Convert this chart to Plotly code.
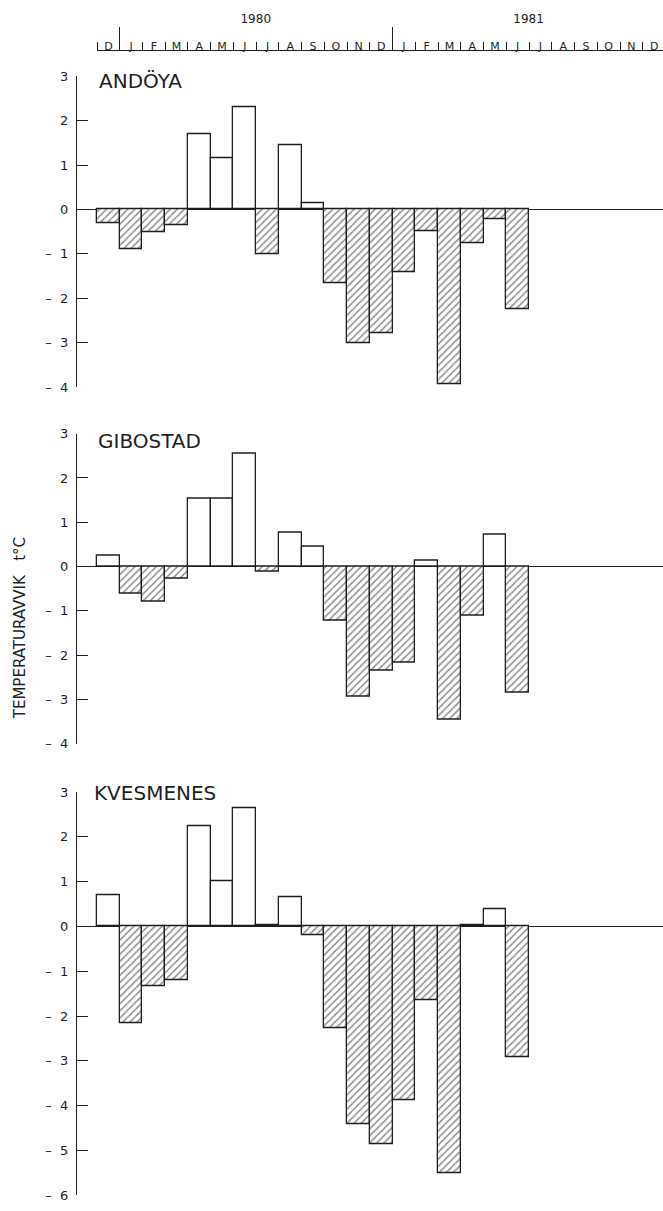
import plotly.graph_objects as go

# ---- data ----
month_letters = ["D", "J", "F", "M", "A", "M", "J", "J", "A", "S", "O", "N", "D",
                 "J", "F", "M", "A", "M", "J", "J", "A", "S", "O", "N", "D"]
year_labels = ["1980", "1981"]
stations = ["ANDÖYA", "GIBOSTAD", "KVESMENES"]
andoya = [-0.30, -0.90, -0.50, -0.35, 1.70, 1.15, 2.30, -1.00, 1.45, 0.15,
          -1.65, -3.00, -2.78, -1.40, -0.49, -3.92, -0.76, -0.22, -2.25]
gibostad = [0.24, -0.62, -0.80, -0.28, 1.54, 1.53, 2.55, -0.11, 0.76, 0.45,
            -1.23, -2.93, -2.35, -2.17, 0.14, -3.45, -1.10, 0.72, -2.84]
kvesmenes = [0.71, -2.15, -1.33, -1.19, 2.23, 1.01, 2.65, 0.04, 0.65, -0.20,
             -2.28, -4.42, -4.87, -3.88, -1.65, -5.52, 0.03, 0.38, -2.92]
series = [andoya, gibostad, kvesmenes]
y_ranges = [(-4, 3), (-4, 3), (-6, 3)]

W, H = 663, 1211
INK = "#1e1e1e"
FONT = "DejaVu Sans"


def py(px):
    return 1 - px / H


def tick_text(v):
    return str(v) if v >= 0 else "–\u00a0\u00a0" + str(-v)


panel_px = [(70, 385), (432, 746), (795, 1203)]
title_px = [(97, 75), (96, 439), (92, 796)]
x_range = [-1.38, 24.39]
x_dom = [77 / W, 1.0]

fig = go.Figure()
layout = dict(
    width=W, height=H, autosize=False,
    margin=dict(l=0, r=0, t=0, b=0),
    paper_bgcolor="white", plot_bgcolor="rgba(0,0,0,0)",
    showlegend=False,
    font=dict(family=FONT, color=INK),
    bargap=0,
)

annotations = []
for i, (vals, (lo, hi), (top, bot)) in enumerate(zip(series, y_ranges, panel_px)):
    n = i + 1
    xa = "x" if n == 1 else f"x{n}"
    ya = "y" if n == 1 else f"y{n}"
    shapes = ["/" if v < 0 else "" for v in vals]
    fig.add_trace(go.Bar(
        x=list(range(len(vals))), y=vals, width=1,
        xaxis=xa, yaxis=ya,
        marker=dict(color="white",
                    line=dict(color=INK, width=1.3),
                    pattern=dict(shape=shapes, fgcolor=INK, bgcolor="white",
                                 size=5, solidity=0.3)),
        hoverinfo="skip",
    ))
    tv = list(range(lo, hi + 1))
    layout["xaxis" if n == 1 else f"xaxis{n}"] = dict(
        domain=x_dom, range=x_range, anchor=ya,
        showline=False, showticklabels=False, ticks="", showgrid=False, zeroline=False,
    )
    layout["yaxis" if n == 1 else f"yaxis{n}"] = dict(
        domain=[py(bot), py(top)], range=[lo, hi], anchor=xa,
        showline=True, linecolor=INK, linewidth=1.4,
        ticks="inside", ticklen=11, tickwidth=1.2, tickcolor=INK,
        tickmode="array", tickvals=tv, ticktext=[tick_text(v) for v in tv],
        tickfont=dict(size=13, family=FONT, color=INK),
        ticklabelstandoff=5,
        showgrid=False,
        zeroline=True, zerolinecolor=INK, zerolinewidth=1.2,
    )
    annotations.append(dict(
        text=stations[i], xref="paper", yref="paper",
        x=title_px[i][0] / W, y=py(title_px[i][1]),
        xanchor="left", yanchor="middle", showarrow=False,
        font=dict(size=20, family=FONT, color=INK),
    ))

# ---- top month strip ----
strip_range = [-0.5, 24.39]
strip_dom = [97 / W, 1.0]
layout["yaxis4"] = dict(domain=[py(60), py(45)], range=[0, 1], anchor="x4",
                        visible=False)
boundaries = [b - 0.5 for b in range(25)]
layout["xaxis4"] = dict(
    domain=strip_dom, range=strip_range, anchor="y4", side="top",
    showline=True, linecolor=INK, linewidth=1.1,
    ticks="outside", ticklen=8, tickwidth=1.1, tickcolor=INK,
    tickmode="array", tickvals=boundaries, ticktext=[""] * len(boundaries),
    showgrid=False, zeroline=False,
)
layout["xaxis5"] = dict(
    domain=strip_dom, range=strip_range, anchor="y4", side="top",
    overlaying="x4",
    showline=False, ticks="outside", ticklen=23, tickwidth=1.1, tickcolor=INK,
    tickmode="array", tickvals=[0.5, 12.5], ticktext=year_labels,
    ticklabelshift=int(round(6 * 22.74)),
    tickfont=dict(size=12, family=FONT, color=INK),
    showgrid=False, zeroline=False,
)
layout["xaxis6"] = dict(
    domain=strip_dom, range=strip_range, anchor="y4", side="top",
    overlaying="x4",
    showline=False, ticks="",
    tickmode="array", tickvals=list(range(25)), ticktext=month_letters,
    tickfont=dict(size=11, family=FONT, color=INK),
    ticklabelstandoff=-2,
    showgrid=False, zeroline=False,
)
for xa in ["x4", "x5", "x6"]:
    fig.add_trace(go.Scatter(x=[0], y=[-5], xaxis=xa, yaxis="y4",
                             mode="markers", marker=dict(opacity=0),
                             hoverinfo="skip", showlegend=False))

annotations.append(dict(
    text="TEMPERATURAVVIK\u00a0\u00a0\u00a0t°C", xref="paper", yref="paper",
    x=20 / W, y=py(629), textangle=-90, showarrow=False,
    xanchor="center", yanchor="middle",
    font=dict(size=15, family=FONT, color=INK),
))
layout["annotations"] = annotations

fig.update_layout(**layout)
fig.write_html("out.html")
